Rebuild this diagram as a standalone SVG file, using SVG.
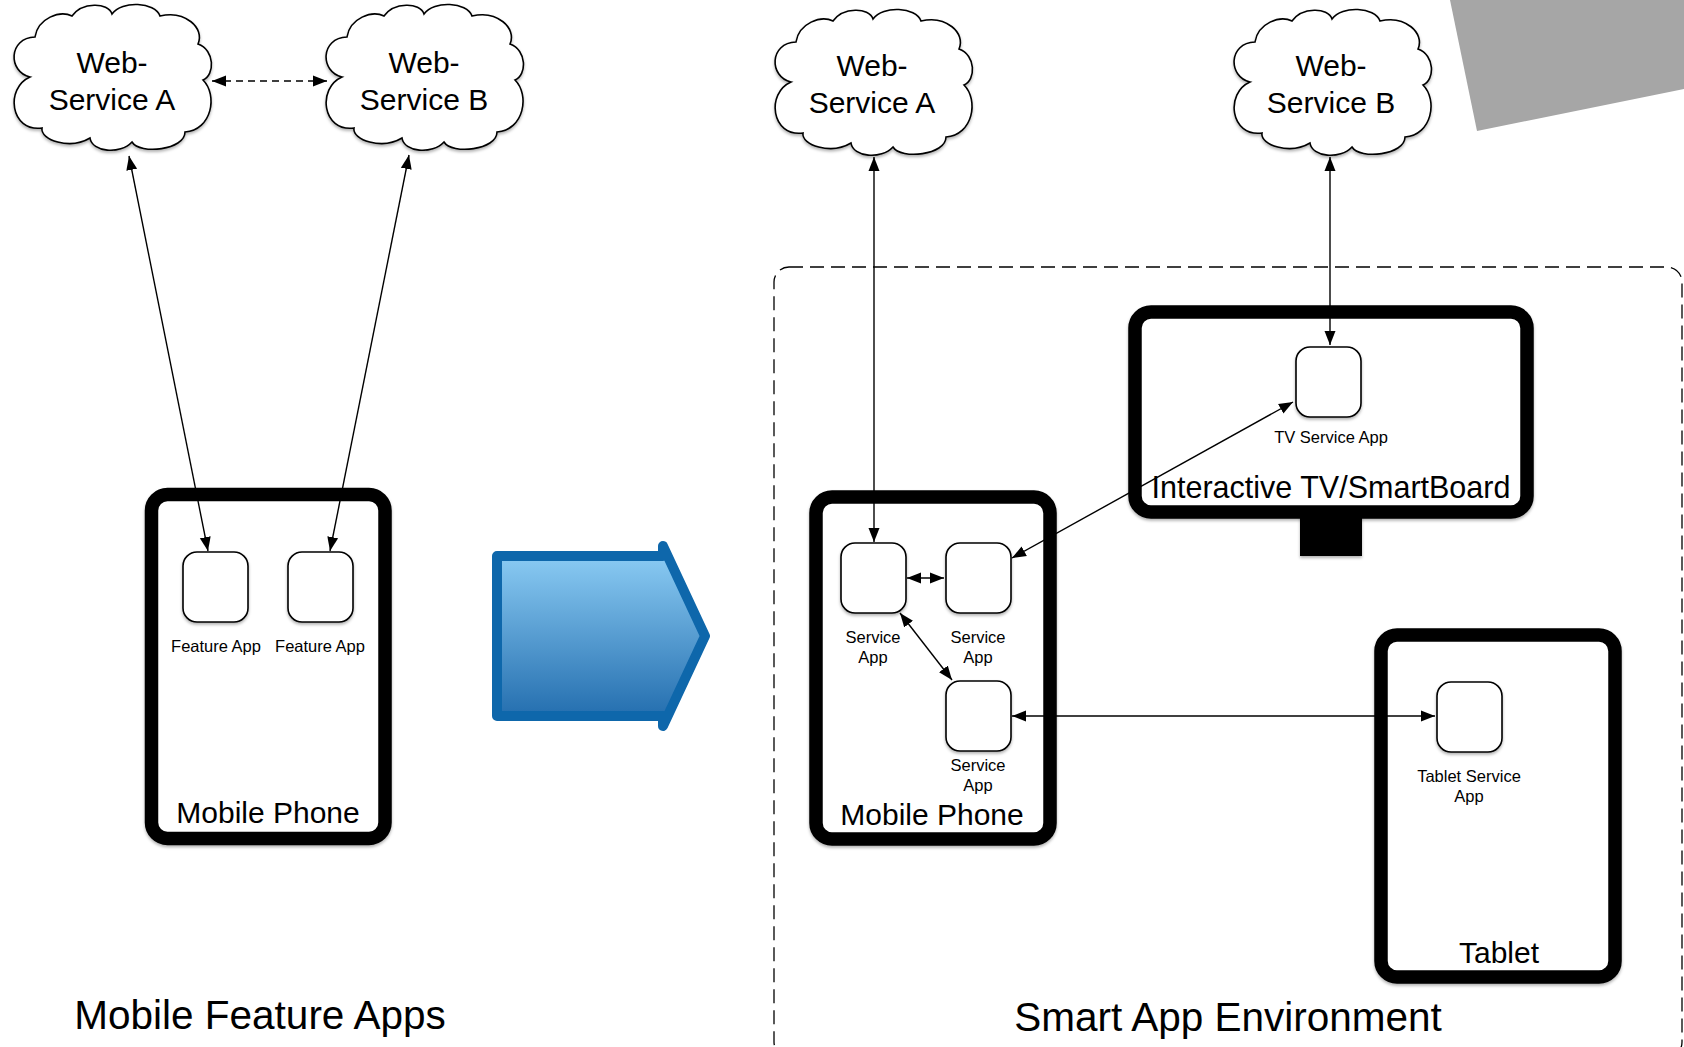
<svg xmlns="http://www.w3.org/2000/svg" width="1684" height="1047" viewBox="0 0 1684 1047">
<style>
text{font-family:"Liberation Sans",Arial,Helvetica,sans-serif;fill:#000}
.cloud{fill:#fff;stroke:#000;stroke-width:1.6}
.ct{font-size:30px;text-anchor:middle}
.frame{fill:#fff;stroke:#000;stroke-width:13.5}
.fl{font-size:30px;text-anchor:middle}
.app{fill:#fff;stroke:#000;stroke-width:1.6}
.al{font-size:16.5px;text-anchor:middle}
.title{font-size:40.5px;text-anchor:middle}
.conn{fill:none;stroke:#000;stroke-width:1.4;marker-start:url(#ah);marker-end:url(#ah)}
</style>
<defs>
<marker id="ah" markerUnits="userSpaceOnUse" markerWidth="15" markerHeight="12" refX="14" refY="5.5" orient="auto-start-reverse" viewBox="0 0 15 11">
<path d="M0,0 L14,5.5 L0,11 Z" fill="#000"/>
</marker>
<linearGradient id="blue" x1="0" y1="0" x2="0" y2="1">
<stop offset="0" stop-color="#90d0f7"/>
<stop offset="1" stop-color="#1e69ab"/>
</linearGradient>
<filter id="sh" x="-10%" y="-10%" width="120%" height="120%">
<feDropShadow dx="0" dy="2" stdDeviation="1.5" flood-color="#000" flood-opacity="0.3"/>
</filter>
<path id="cloudShape" d="M18,71 C-4,66 -4,32 23,31 C26,12 48,4 60,10 C70,-4 96,-4 100,8 C110,-6 143,-4 148,10 C173,4 193,22 186,38 C203,44 203,69 191,74 C206,89 200,124 173,126 C173,144 128,149 120,136 C108,149 80,146 78,132 C58,144 28,134 30,122 C-2,126 -7,82 18,71 Z"/>
</defs>
<rect width="1684" height="1047" fill="#fff"/>
<polygon points="1450,0 1684,0 1684,89 1477,131" fill="#a6a6a6"/>

<g id="smart-env">
<rect x="774" y="267" width="908" height="790" rx="15" fill="none" stroke="#000" stroke-width="1.3" stroke-dasharray="14,7"/>
</g>

<g id="cloud-a-left">
<use href="#cloudShape" class="cloud" transform="translate(12,6)" filter="url(#sh)"/>
<text class="ct" x="112" y="73">Web-</text>
<text class="ct" x="112" y="110">Service A</text>
</g>
<g id="cloud-b-left">
<use href="#cloudShape" class="cloud" transform="translate(324,6)" filter="url(#sh)"/>
<text class="ct" x="424" y="73">Web-</text>
<text class="ct" x="424" y="110">Service B</text>
</g>
<g id="cloud-a-right">
<use href="#cloudShape" class="cloud" transform="translate(773,11)" filter="url(#sh)"/>
<text class="ct" x="872" y="76">Web-</text>
<text class="ct" x="872" y="113">Service A</text>
</g>
<g id="cloud-b-right">
<use href="#cloudShape" class="cloud" transform="translate(1232,11)" filter="url(#sh)"/>
<text class="ct" x="1331" y="76">Web-</text>
<text class="ct" x="1331" y="113">Service B</text>
</g>

<g id="phone-left">
<rect class="frame" x="151.5" y="494.5" width="233.5" height="344" rx="16" filter="url(#sh)"/>
<text class="fl" x="268" y="823">Mobile Phone</text>
</g>
<g id="feature-app-1">
<rect class="app" x="183" y="552" width="65" height="70" rx="14" filter="url(#sh)"/>
<text class="al" x="216" y="652">Feature App</text>
</g>
<g id="feature-app-2">
<rect class="app" x="288" y="552" width="65" height="70" rx="14" filter="url(#sh)"/>
<text class="al" x="320" y="652">Feature App</text>
</g>

<g id="transition-arrow">
<path d="M497,556 L663,556 L663,546 L705,636 L663,726 L663,716 L497,716 Z" fill="url(#blue)" stroke="#0e67ab" stroke-width="10" stroke-linejoin="round"/>
</g>

<g id="phone-right">
<rect class="frame" x="816" y="497" width="234" height="342" rx="16" filter="url(#sh)"/>
<text class="fl" x="932" y="825">Mobile Phone</text>
</g>
<g id="service-app-1">
<rect class="app" x="841" y="543" width="65" height="70" rx="14" filter="url(#sh)"/>
<text class="al" x="873" y="643">Service</text>
<text class="al" x="873" y="663">App</text>
</g>
<g id="service-app-2">
<rect class="app" x="946" y="543" width="65" height="70" rx="14" filter="url(#sh)"/>
<text class="al" x="978" y="643">Service</text>
<text class="al" x="978" y="663">App</text>
</g>
<g id="service-app-3">
<rect class="app" x="946" y="681" width="65" height="70" rx="14" filter="url(#sh)"/>
<text class="al" x="978" y="771">Service</text>
<text class="al" x="978" y="791">App</text>
</g>

<g id="tv">
<rect x="1300" y="512" width="62" height="44" fill="#000" filter="url(#sh)"/>
<rect class="frame" x="1135" y="312" width="392" height="200" rx="16" filter="url(#sh)"/>
<text class="fl" x="1331" y="498" style="font-size:30.5px">Interactive TV/SmartBoard</text>
</g>
<g id="tv-app">
<rect class="app" x="1296" y="347" width="65" height="70" rx="14" filter="url(#sh)"/>
<text class="al" x="1331" y="443">TV Service App</text>
</g>

<g id="tablet">
<rect class="frame" x="1381" y="635" width="234" height="342" rx="16" filter="url(#sh)"/>
<text class="fl" x="1499" y="963">Tablet</text>
</g>
<g id="tablet-app">
<rect class="app" x="1437" y="682" width="65" height="70" rx="14" filter="url(#sh)"/>
<text class="al" x="1469" y="782">Tablet Service</text>
<text class="al" x="1469" y="802">App</text>
</g>

<g id="connectors">
<line class="conn" x1="129" y1="156" x2="208" y2="551"/>
<line class="conn" x1="409" y1="155" x2="330" y2="551"/>
<line class="conn" x1="212" y1="81" x2="327" y2="81" stroke-dasharray="7,5"/>
<line class="conn" x1="874" y1="157" x2="874" y2="542"/>
<line class="conn" x1="1330" y1="157" x2="1330" y2="345"/>
<line class="conn" x1="907" y1="578" x2="944" y2="578"/>
<line class="conn" x1="900" y1="613" x2="952" y2="680"/>
<line class="conn" x1="1293" y1="402" x2="1012" y2="558"/>
<line class="conn" x1="1012" y1="716" x2="1435" y2="716"/>
</g>

<g id="titles">
<text class="title" x="260" y="1029">Mobile Feature Apps</text>
<text class="title" x="1228" y="1031">Smart App Environment</text>
</g>
</svg>
